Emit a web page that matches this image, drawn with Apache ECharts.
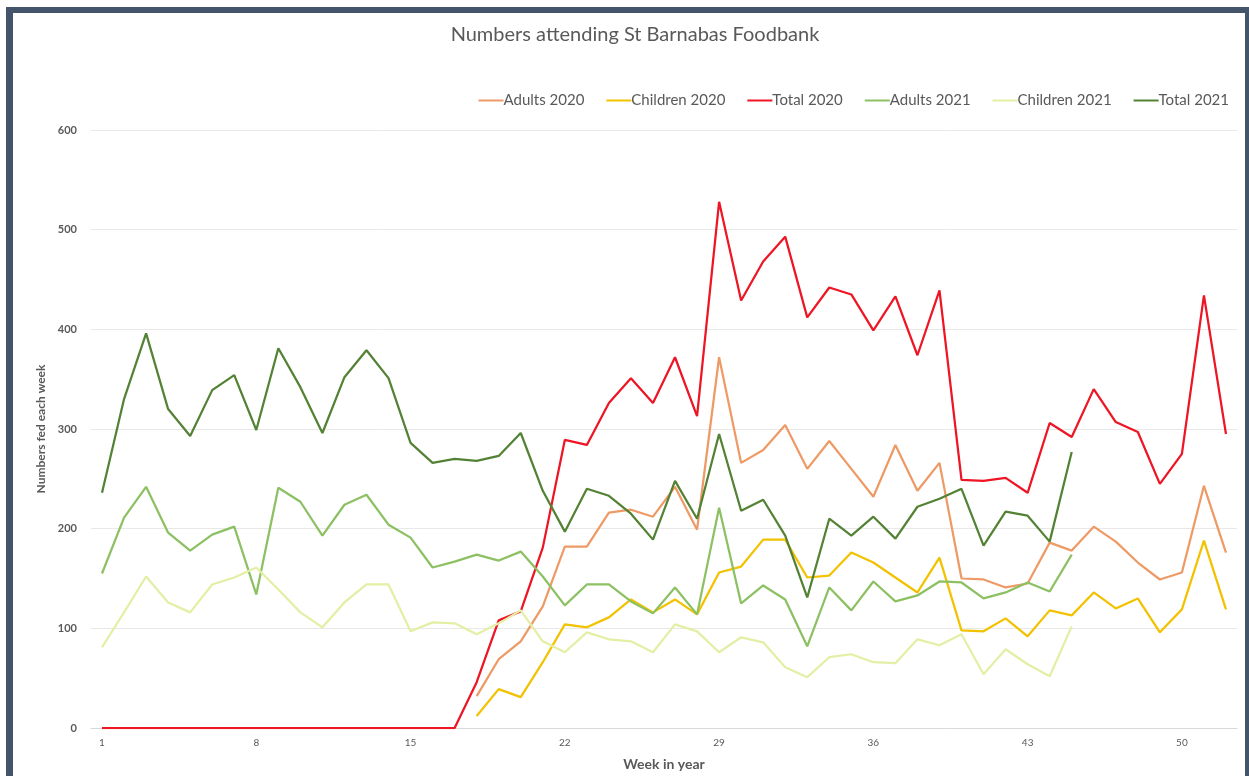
<!DOCTYPE html>
<html>
<head>
<meta charset="utf-8">
<script src="https://cdn.jsdelivr.net/npm/echarts@6/dist/echarts.min.js"></script>
<style>
html,body{margin:0;padding:0;background:#fff;overflow:hidden;}
#chart{position:absolute;left:0;top:0;width:1249px;height:776px;}
.b{position:absolute;background:#44546A;z-index:10;}
</style>
</head>
<body>
<div id="chart"></div>
<div class="b" style="left:6px;top:7px;width:1243px;height:6px;"></div>
<div class="b" style="left:6px;top:7px;width:7px;height:769px;"></div>
<div class="b" style="left:1245px;top:7px;width:4px;height:769px;"></div>
<script>
const weeks = Array.from({length: 52}, (_, i) => String(i + 1));
const gap17 = Array(17).fill(null);
const zeros17 = Array(17).fill(0);
const adults2020 = gap17.concat([32,69,87,122,182,182,216,219,212,242,199,372,266,279,304,260,288,260,232,284,238,266,150,149,141,145,186,178,202,187,166,149,156,243,176]);
const children2020 = gap17.concat([12,39,31,66,104,101,111,129,116,129,114,156,162,189,189,151,153,176,166,151,136,171,98,97,110,92,118,113,136,120,130,96,119,188,119]);
const total2020 = zeros17.concat([46,108,117,181,289,284,326,351,326,372,313,528,429,468,493,412,442,435,399,433,374,439,249,248,251,236,306,292,340,307,297,245,275,434,295]);
const adults2021 = [155,211,242,196,178,194,202,134,241,227,193,224,234,204,191,161,167,174,168,177,152,123,144,144,127,115,141,114,221,125,143,129,82,141,118,147,127,133,147,146,130,136,146,137,174];
const children2021 = [81,116,152,126,116,144,151,161,139,116,101,126,144,144,97,106,105,94,105,118,87,76,96,89,87,76,104,97,76,91,86,61,51,71,74,66,65,89,83,94,54,79,64,52,102];
const total2021 = [236,330,396,320,293,339,354,299,381,342,296,352,379,351,286,266,270,268,273,296,238,197,240,233,215,189,248,210,295,218,229,193,131,210,193,212,190,222,230,240,183,217,213,187,277];
const yTicks = [0,100,200,300,400,500,600];

const seriesDefs = [
  ['Adults 2020', adults2020, '#EE9A66'],
  ['Children 2020', children2020, '#F2C200'],
  ['Total 2020', total2020, '#EE1524'],
  ['Adults 2021', adults2021, '#8CC063'],
  ['Children 2021', children2021, '#E4EEA4'],
  ['Total 2021', total2021, '#548235']
];

const chart = echarts.init(document.getElementById('chart'));
const FONT = 'Lato';
chart.setOption({
  animation: false,
  backgroundColor: '#fff',
  textStyle: {fontFamily: FONT},
  title: {
    text: 'Numbers attending St Barnabas Foodbank',
    left: 630, top: 20, textAlign: 'center',
    textStyle: {fontFamily: FONT, fontSize: 20, fontWeight: 'normal', color: '#595959'}
  },
  legend: {
    right: 15, top: 88,
    itemWidth: 25, itemHeight: 14, itemGap: 22,
    icon: 'path://M0,6L25,6L25,8L0,8Z',
    textStyle: {fontFamily: FONT, fontSize: 15, color: '#595959', padding: [0,0,0,-5]},
    data: seriesDefs.map(d => d[0])
  },
  grid: {left: 91, right: 12, top: 130, bottom: 47, containLabel: false},
  xAxis: {
    type: 'category',
    data: weeks,
    boundaryGap: true,
    name: 'Week in year',
    nameLocation: 'middle',
    nameGap: 29,
    nameTextStyle: {fontFamily: FONT, fontSize: 14, fontWeight: 'bold', color: '#595959'},
    axisLine: {lineStyle: {color: '#D9D9D9', width: 1}},
    axisTick: {show: false},
    axisLabel: {interval: 6, fontSize: 10, color: '#595959', margin: 10, fontFamily: FONT}
  },
  yAxis: {
    type: 'value',
    min: yTicks[0], max: yTicks[yTicks.length - 1], interval: 100,
    name: 'Numbers fed each week',
    nameLocation: 'middle',
    nameGap: 44,
    nameTextStyle: {fontFamily: FONT, fontSize: 12, fontWeight: 'bold', color: '#595959'},
    axisLine: {show: false},
    axisTick: {show: false},
    axisLabel: {fontSize: 11, color: '#595959', margin: 14, fontFamily: FONT, fontWeight: 'bold'},
    splitLine: {lineStyle: {color: '#E8E8E8', width: 1}}
  },
  series: seriesDefs.map(d => ({
    name: d[0], type: 'line', data: d[1],
    showSymbol: false, symbol: 'none',
    lineStyle: {color: d[2], width: 2.25},
    itemStyle: {color: d[2]},
    connectNulls: false
  }))
});
</script>
</body>
</html>
